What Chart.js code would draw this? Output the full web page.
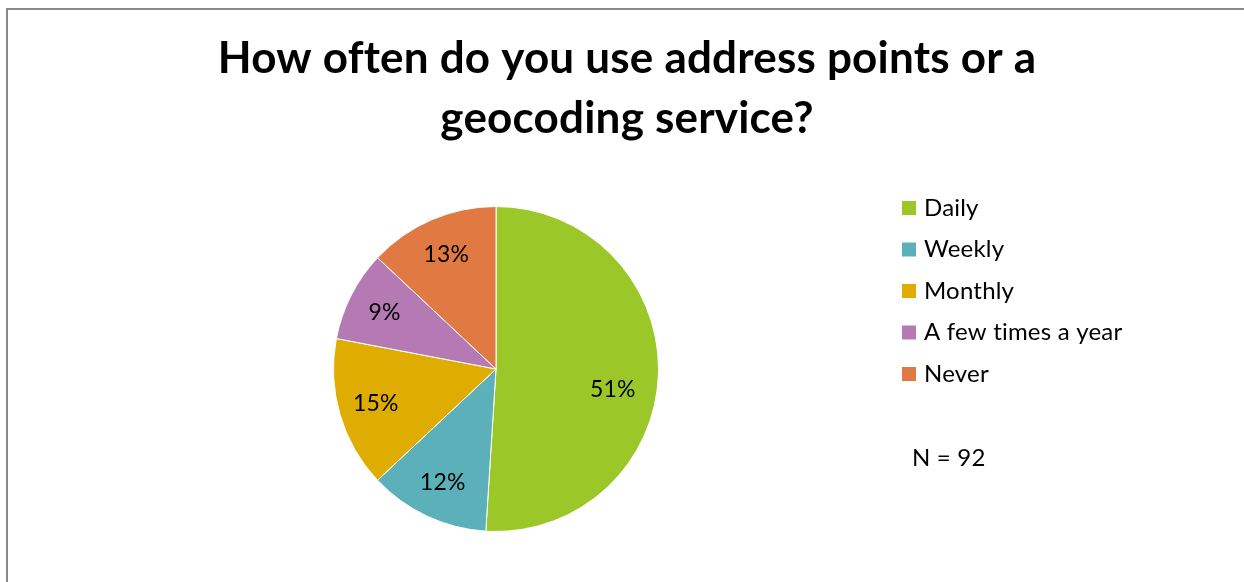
<!DOCTYPE html>
<html>
<head>
<meta charset="utf-8">
<title>Address points / geocoding usage</title>
<script src="https://cdn.jsdelivr.net/npm/chart.js@4"></script>
<style>
  html, body { margin: 0; padding: 0; background: #fff; overflow: hidden; }
  canvas { display: block; }
</style>
</head>
<body>
<canvas id="myChart" width="1244" height="582"></canvas>
<script>
const categories = ['Daily', 'Weekly', 'Monthly', 'A few times a year', 'Never'];
const shares = [51, 12, 15, 9, 13];
const sliceColors = ['#9bc828', '#5bb0b9', '#dfad02', '#b57ab3', '#e07942'];
const titleLines = ['How often do you use address points or a', 'geocoding service?'];
const sampleNote = 'N = 92';

const FONT = "Lato, 'Open Sans', sans-serif";

// grey frame along the top and left edges of the chart box
const chartFrame = {
    id: 'chartFrame',
    beforeDraw(chart) {
        const ctx = chart.ctx;
        ctx.save();
        ctx.strokeStyle = '#8a8a8a';
        ctx.lineWidth = 2;
        ctx.beginPath();
        ctx.moveTo(7, chart.height);
        ctx.lineTo(7, 9);
        ctx.lineTo(chart.width, 9);
        ctx.stroke();
        ctx.restore();
    }
};

// title, percentage labels inside the slices, legend on the right and the N note
const pieExtras = {
    id: 'pieExtras',
    afterDraw(chart) {
        const ctx = chart.ctx;
        const meta = chart.getDatasetMeta(0);
        ctx.save();
        ctx.fillStyle = '#000';
        // a tiny spacing keeps Lato from joining "ti" into a ligature
        ctx.letterSpacing = '0.2px';

        // title: size it so the first line spans about 820px
        ctx.font = 'bold 40px ' + FONT;
        const size = Math.min(46, 40 * 820 / ctx.measureText(titleLines[0]).width);
        ctx.font = 'bold ' + size.toFixed(1) + 'px ' + FONT;
        ctx.textAlign = 'center';
        ctx.textBaseline = 'alphabetic';
        ctx.fillText(titleLines[0], 627, 73);
        ctx.fillText(titleLines[1], 627, 133);

        ctx.font = '23px ' + FONT;
        ctx.textBaseline = 'middle';
        meta.data.forEach((arc, i) => {
            const p = arc.getProps(['x', 'y', 'startAngle', 'endAngle', 'outerRadius'], true);
            // big slice: label sits a little lower, towards the slice's centre of mass
            const mid = (p.startAngle + p.endAngle) / 2 + (shares[i] > 40 ? 0.14 : 0);
            const r = p.outerRadius * (shares[i] > 40 ? 0.73 : 0.77);
            ctx.fillText(shares[i] + '%', p.x + Math.cos(mid) * r, p.y + Math.sin(mid) * r);
        });

        // legend
        ctx.font = '24px ' + FONT;
        ctx.textAlign = 'left';
        const lx = 902, ly = 208, step = 41.5;
        categories.forEach((name, i) => {
            const y = ly + i * step;
            ctx.fillStyle = sliceColors[i];
            ctx.fillRect(lx, y - 7, 14, 14);
            ctx.fillStyle = '#000';
            ctx.fillText(name, lx + 22, y);
        });

        ctx.fillText(sampleNote, 912, 458);
        ctx.restore();
    }
};

new Chart(document.getElementById('myChart'), {
    type: 'pie',
    data: {
        labels: categories,
        datasets: [{
            data: shares,
            backgroundColor: sliceColors,
            borderColor: '#ffffff',
            borderWidth: 1
        }]
    },
    options: {
        responsive: false,
        animation: false,
        layout: {
            padding: { top: 206, bottom: 50, left: 333, right: 585 }
        },
        plugins: {
            legend: { display: false },
            tooltip: { enabled: false },
            title: { display: false }
        }
    },
    plugins: [chartFrame, pieExtras]
});
</script>
</body>
</html>
